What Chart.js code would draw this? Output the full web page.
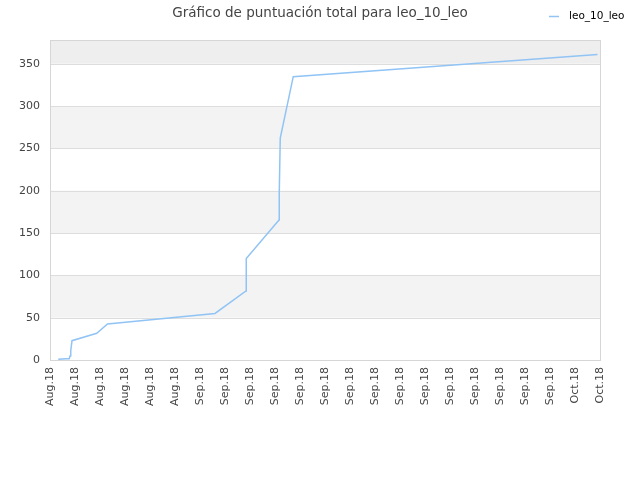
<!DOCTYPE html>
<html>
<head>
<meta charset="utf-8">
<script src="https://cdn.jsdelivr.net/npm/chart.js@4/dist/chart.umd.min.js"></script>
<style>
html,body{margin:0;padding:0;background:#fff;}
#wrap{width:640px;height:480px;position:relative;}
</style>
</head>
<body>
<div id="wrap"><canvas id="c" width="640" height="480"></canvas></div>
<script>
const titleText = "Gráfico de puntuación total para leo_10_leo";
const seriesName = "leo_10_leo";
const tickLabels = ["Aug.18","Aug.18","Aug.18","Aug.18","Aug.18","Aug.18",
  "Sep.18","Sep.18","Sep.18","Sep.18","Sep.18","Sep.18","Sep.18","Sep.18","Sep.18",
  "Sep.18","Sep.18","Sep.18","Sep.18","Sep.18","Sep.18","Oct.18","Oct.18"];
const xPositions = [0.33, 0.64, 0.77, 0.80, 0.83, 0.88, 1.87, 2.30, 6.60, 7.84, 7.85, 9.16, 9.17, 9.21, 9.73, 21.9];
const scores     = [0.8,  1.5,  1.5,  4.7,  11,   22.8, 31.5, 42.5, 55,   81.5, 120,  165.4, 197, 262,  334.7, 361];
const yMax = 378;

const lineColor = "rgb(145,196,245)";

const bgPlugin = {
  id: "bands",
  beforeDatasetsDraw(chart) {
    const {ctx, chartArea: a, scales: {y}} = chart;
    ctx.save();
    for (let v = 50; v < yMax; v += 100) {
      const top = y.getPixelForValue(Math.min(v + 50, yMax));
      const bot = y.getPixelForValue(v);
      ctx.fillStyle = (v + 50 > yMax) ? "#eeeeee" : "#f3f3f3";
      ctx.fillRect(a.left, top, a.right - a.left, bot - top);
    }
    ctx.strokeStyle = "#dddddd";
    ctx.lineWidth = 1;
    for (let v = 50; v < yMax; v += 50) {
      const p = Math.round(y.getPixelForValue(v)) + 0.5;
      ctx.beginPath(); ctx.moveTo(a.left, p); ctx.lineTo(a.right, p); ctx.stroke();
    }
    ctx.strokeStyle = "#d6d6d6";
    ctx.strokeRect(Math.round(a.left) + 0.5, Math.round(a.top) + 0.5, Math.round(a.right - a.left), Math.round(a.bottom - a.top));
    ctx.restore();
  },
  afterDraw(chart) {
    const ctx = chart.ctx;
    ctx.save();
    ctx.font = "13.5px 'DejaVu Sans'";
    ctx.fillStyle = "#444444";
    ctx.textAlign = "center";
    ctx.textBaseline = "middle";
    ctx.fillText(titleText, 320, 13);
    ctx.strokeStyle = lineColor;
    ctx.lineWidth = 1.5;
    ctx.beginPath(); ctx.moveTo(549, 16.5); ctx.lineTo(559, 16.5); ctx.stroke();
    ctx.font = "10.5px 'DejaVu Sans'";
    ctx.fillStyle = "#000000";
    ctx.textAlign = "left";
    ctx.fillText(seriesName, 569, 16);
    ctx.restore();
  }
};

new Chart(document.getElementById("c"), {
  type: "line",
  data: {
    datasets: [{
      label: seriesName,
      data: xPositions.map((x, i) => ({x: x, y: scores[i]})),
      borderColor: lineColor,
      backgroundColor: lineColor,
      borderWidth: 1.5,
      pointRadius: 0,
      tension: 0,
      fill: false
    }]
  },
  options: {
    responsive: false,
    animation: false,
    layout: {padding: {top: 40, right: 40, left: 0, bottom: 0}},
    plugins: {legend: {display: false}, title: {display: false}, tooltip: {enabled: false}},
    scales: {
      x: {
        type: "linear", min: 0, max: 22,
        afterFit(s) { s.height = 120; },
        grid: {display: false, drawTicks: false},
        border: {display: false},
        ticks: {
          stepSize: 1, autoSkip: false, minRotation: 90, maxRotation: 90, padding: 7,
          color: "#444444", font: {family: "DejaVu Sans", size: 11},
          callback: v => tickLabels[v] ?? ""
        }
      },
      y: {
        min: 0, max: yMax,
        afterFit(s) { s.width = 50; },
        grid: {display: false, drawTicks: false},
        border: {display: false},
        ticks: {
          stepSize: 50, padding: 10,
          color: "#444444", font: {family: "DejaVu Sans", size: 11},
          callback: v => (v % 50 === 0 ? String(v) : "")
        }
      }
    }
  },
  plugins: [bgPlugin]
});
</script>
</body>
</html>
